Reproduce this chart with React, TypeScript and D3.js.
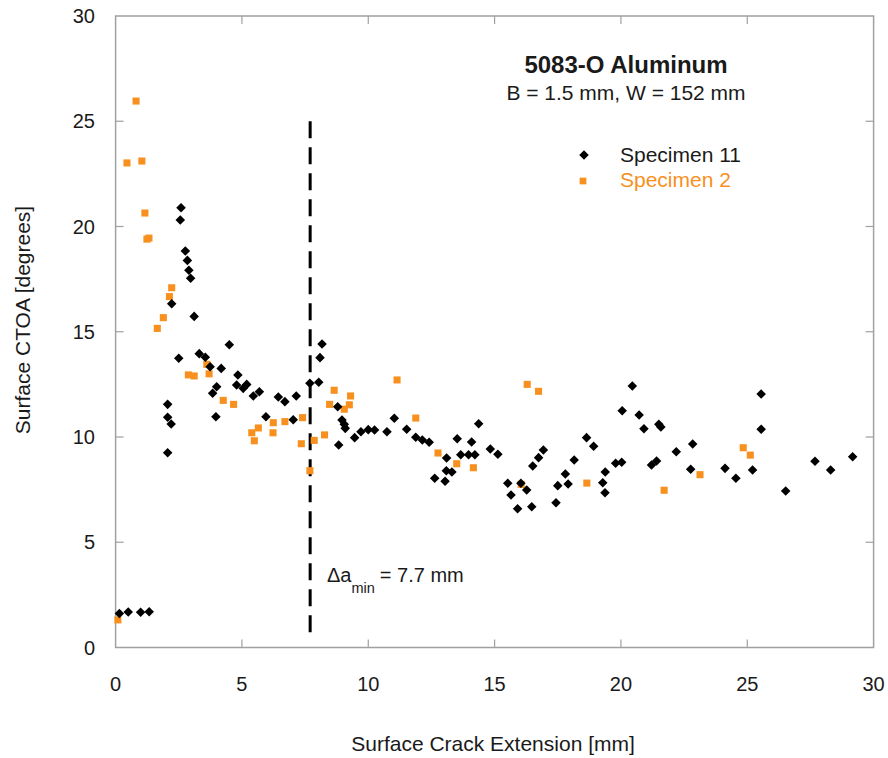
import React from "react";
import * as d3 from "d3";

const spec11X = [0.15,0.5,0.99,1.33,2.59,2.56,2.76,2.84,2.9,2.97,2.22,3.11,2.5,3.31,3.55,3.74,4.5,4.18,4.0,3.84,3.97,4.84,4.79,5.19,5.05,5.45,5.69,6.44,6.7,7.15,5.95,7.03,2.06,2.06,2.2,2.06,7.69,8.04,8.17,8.09,8.79,8.96,9.05,9.09,8.83,9.46,9.71,10.0,10.25,10.74,11.03,11.52,11.88,12.14,12.41,12.63,13.04,13.09,13.31,13.52,13.1,13.66,13.97,14.22,14.09,14.37,14.83,15.13,15.52,15.65,15.91,16.04,16.27,16.47,16.51,16.74,16.93,17.43,17.5,17.8,17.91,18.15,18.64,18.92,19.38,19.28,19.37,19.79,20.03,20.05,20.45,20.72,20.91,21.21,21.41,21.5,21.58,22.19,22.84,22.76,24.12,24.55,25.21,25.55,25.55,26.52,27.68,28.3,29.17];
const spec11Y = [1.62,1.69,1.67,1.7,20.89,20.31,18.84,18.39,17.92,17.54,16.33,15.73,13.74,13.96,13.79,13.34,14.38,13.26,12.39,12.08,10.96,12.95,12.47,12.5,12.31,11.95,12.15,11.9,11.68,11.95,10.96,10.82,11.55,10.94,10.62,9.25,12.55,12.6,14.42,13.77,11.44,10.81,10.6,10.41,9.62,9.97,10.25,10.35,10.33,10.25,10.89,10.37,9.99,9.86,9.75,8.04,7.9,8.4,8.34,9.92,9.0,9.16,9.16,9.16,9.76,10.63,9.43,9.18,7.8,7.24,6.59,7.8,7.48,6.69,8.62,9.02,9.38,6.88,7.69,8.24,7.77,8.91,9.97,9.56,8.34,7.83,7.35,8.75,8.8,11.25,12.42,11.05,10.39,8.67,8.86,10.6,10.48,9.3,9.67,8.47,8.51,8.04,8.43,10.37,12.04,7.43,8.85,8.43,9.06];

const spec2X = [0.09,0.45,0.81,1.04,1.16,1.24,1.32,1.65,1.89,2.13,2.22,2.88,3.11,3.61,3.7,4.26,4.67,5.39,5.49,5.65,6.23,6.24,6.7,7.4,7.35,7.86,7.69,8.27,8.65,8.47,9.05,9.25,9.3,11.14,11.88,12.76,13.5,14.16,16.29,16.74,16.05,18.65,21.71,23.13,24.84,25.12];
const spec2Y = [1.31,23.02,25.96,23.11,20.64,19.4,19.45,15.16,15.67,16.67,17.09,12.95,12.9,13.45,13.0,11.74,11.55,10.2,9.82,10.43,10.2,10.68,10.73,10.92,9.68,9.84,8.4,10.1,12.22,11.55,11.32,11.53,11.95,12.71,10.9,9.24,8.73,8.54,12.5,12.17,7.75,7.81,7.47,8.21,9.49,9.14];

const xTicks = [0, 5, 10, 15, 20, 25, 30];
const yTicks = [0, 5, 10, 15, 20, 25, 30];
const deltaAMin = 7.7;
const dashTop = 25;
const dashBottom = 0.5;

const FONT = "'Liberation Sans', Arial, sans-serif";
const FRAME = "#a0a0a0";
const ORANGE = "#f7901e";
const TXT = "#1a1a1a";

export default function App() {
  const left = 115.6, right = 873.6, top = 16, bottom = 647.5;
  const x = d3.scaleLinear().domain([0, 30]).range([left, right]);
  const y = d3.scaleLinear().domain([0, 30]).range([bottom, top]);
  const diamond = d3.symbol().type(d3.symbolDiamond2).size(58)();
  const square = d3.symbol().type(d3.symbolSquare).size(50)();
  const tickLen = 8;

  return (
    <svg width={888} height={758} style={{ display: "block", position: "absolute", left: 0, top: 0 }} fontFamily={FONT}>
      <rect x={0} y={0} width={888} height={758} fill="#fff" />
      <rect x={left} y={top} width={right - left} height={bottom - top} fill="none" stroke={FRAME} strokeWidth={1.5} />
      {xTicks.slice(1, -1).map((t) => (
        <g key={"xt" + t}>
          <line x1={x(t)} x2={x(t)} y1={bottom} y2={bottom - tickLen} stroke={FRAME} strokeWidth={1.2} />
          <line x1={x(t)} x2={x(t)} y1={top} y2={top + tickLen} stroke={FRAME} strokeWidth={1.2} />
        </g>
      ))}
      {yTicks.slice(1, -1).map((t) => (
        <g key={"yt" + t}>
          <line x1={left} x2={left + tickLen} y1={y(t)} y2={y(t)} stroke={FRAME} strokeWidth={1.2} />
          <line x1={right} x2={right - tickLen} y1={y(t)} y2={y(t)} stroke={FRAME} strokeWidth={1.2} />
        </g>
      ))}
      {xTicks.map((t) => (
        <text key={"xl" + t} x={x(t)} y={691} textAnchor="middle" fontSize={20} fill={TXT}>{t}</text>
      ))}
      {yTicks.map((t) => (
        <text key={"yl" + t} x={95} y={y(t) + 7} textAnchor="end" fontSize={20} fill={TXT}>{t}</text>
      ))}
      <text x={493} y={751} textAnchor="middle" fontSize={21} fill={TXT}>Surface Crack Extension [mm]</text>
      <text transform={`translate(30,320) rotate(-90)`} textAnchor="middle" fontSize={21} fill={TXT}>Surface CTOA [degrees]</text>

      <line x1={x(deltaAMin)} x2={x(deltaAMin)} y1={y(dashTop)} y2={y(dashBottom)} stroke="#000" strokeWidth={3} strokeDasharray="17,9" />
      <text x={327} y={582} fontSize={20} fill={TXT}>
        Δa<tspan dy={11} fontSize={14.5}>min</tspan><tspan dy={-11} dx={5}>= 7.7 mm</tspan>
      </text>

      {spec2X.map((v, i) => (
        <path key={"s2" + i} d={square} transform={`translate(${x(v)},${y(spec2Y[i])})`} fill={ORANGE} />
      ))}
      {spec11X.map((v, i) => (
        <path key={"s11" + i} d={diamond} transform={`translate(${x(v)},${y(spec11Y[i])})`} fill="#000" />
      ))}

      <text x={626} y={73} textAnchor="middle" fontSize={24} fontWeight="bold" fill={TXT}>5083-O Aluminum</text>
      <text x={626} y={100} textAnchor="middle" fontSize={21} fill={TXT}>B = 1.5 mm, W = 152 mm</text>
      <path d={d3.symbol().type(d3.symbolDiamond2).size(58)()} transform="translate(584,155)" fill="#000" />
      <text x={620} y={162} fontSize={21} fill={TXT}>Specimen 11</text>
      <path d={d3.symbol().type(d3.symbolSquare).size(45)()} transform="translate(583,181)" fill={ORANGE} />
      <text x={620} y={187} fontSize={21} fill={ORANGE}>Specimen 2</text>
    </svg>
  );
}
